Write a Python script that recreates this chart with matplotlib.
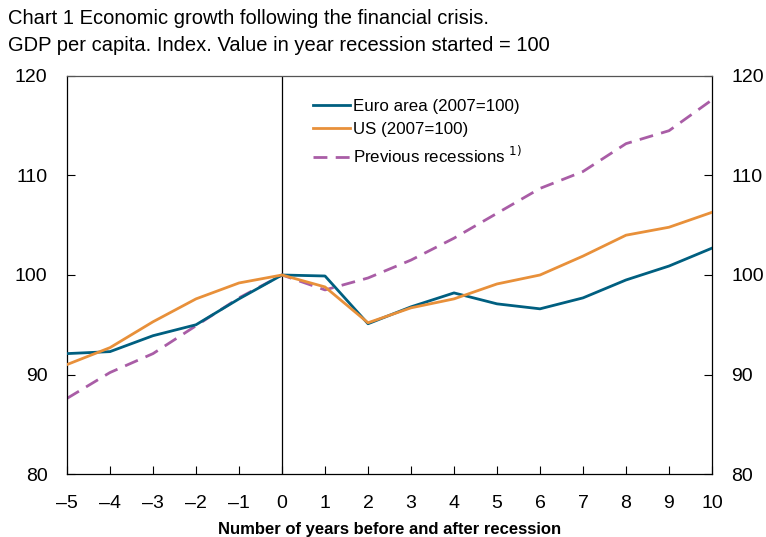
import matplotlib
matplotlib.use("Agg")
import matplotlib.pyplot as plt

plt.rcParams['font.family'] = ['Liberation Sans', 'DejaVu Sans']

years = [-5, -4, -3, -2, -1, 0, 1, 2, 3, 4, 5, 6, 7, 8, 9, 10]
euro = [92.1, 92.3, 93.9, 95.0, 97.6, 100.0, 99.9, 95.1, 96.8, 98.2, 97.1, 96.6, 97.7, 99.5, 100.9, 102.7]
us = [91.0, 92.7, 95.3, 97.6, 99.2, 100.0, 98.8, 95.2, 96.7, 97.6, 99.1, 100.0, 101.9, 104.0, 104.8, 106.3]
prev = [87.6, 90.2, 92.1, 94.9, 97.7, 100.0, 98.5, 99.7, 101.5, 103.7, 106.2, 108.7, 110.4, 113.2, 114.5, 117.6]
x_labels = ['–5', '–4', '–3', '–2', '–1', '0', '1', '2', '3', '4', '5', '6', '7', '8', '9', '10']
y_ticks = [80, 90, 100, 110, 120]

labels = ['Euro area (2007=100)', 'US (2007=100)', 'Previous recessions $^{1)}$']
title1 = 'Chart 1 Economic growth following the financial crisis.'
title2 = 'GDP per capita. Index. Value in year recession started = 100'
xlabel = 'Number of years before and after recession'

c_euro = '#005F80'
c_us = '#E8903A'
c_prev = '#A95DA6'

fig = plt.figure(figsize=(7.66, 5.37), dpi=100)
ax = fig.add_axes([0.0875, 0.1173, 0.842, 0.7412])

ax.axvline(0, color='black', lw=0.9, zorder=1)
ax.plot(years, euro, color=c_euro, lw=2.0, label=labels[0], zorder=3)
ax.plot(years, us, color=c_us, lw=2.0, label=labels[1], zorder=3)
ax.plot(years, prev, color=c_prev, lw=2.0, ls=(0, (5, 3)), label=labels[2], zorder=2)

ax.set_xlim(-5, 10)
ax.set_ylim(80, 120)
ax.set_xticks(years)
ax.set_xticklabels(x_labels, fontsize=14)
ax.set_yticks(y_ticks)
ax.set_yticklabels([str(v) for v in y_ticks], fontsize=14)
ax.tick_params(axis='x', direction='in', length=6, width=0.8, pad=15, top=False)
ax.tick_params(axis='y', direction='in', length=6, width=0.8, pad=14, left=True, right=True,
               labelleft=True, labelright=True)
for s in ax.spines.values():
    s.set_linewidth(0.9)
ax.spines['top'].set_color('#555555')

ax.set_xlabel(xlabel, fontsize=12, fontweight='bold', labelpad=7)

leg = ax.legend(loc='upper left', bbox_to_anchor=(0.381, 0.942), frameon=False, fontsize=12.2,
                handlelength=2.2, handletextpad=0.15, labelspacing=0.45, borderaxespad=0,
                borderpad=0)

fig.text(0.010, 0.965, title1, fontsize=14.5, va='center', ha='left')
fig.text(0.010, 0.915, title2, fontsize=14.5, va='center', ha='left')

fig.savefig('out.png', dpi=100)
